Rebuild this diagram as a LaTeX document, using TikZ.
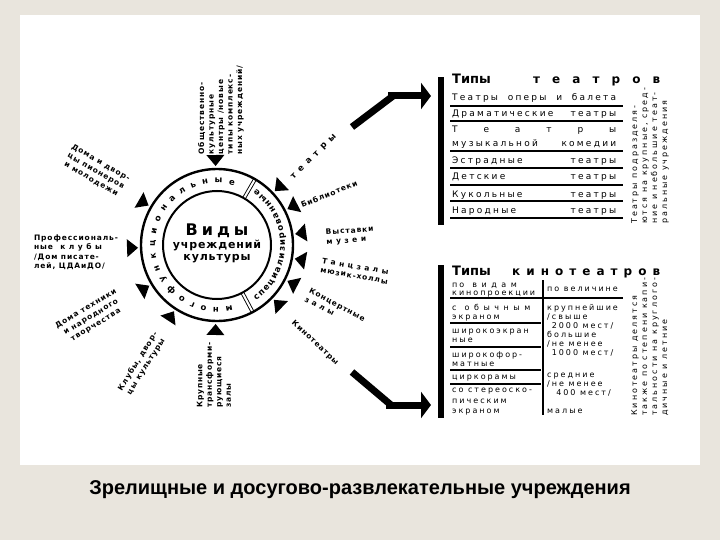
\documentclass[tikz,border=0pt]{standalone}
\usepackage{fontspec}
\setmainfont{DejaVu Sans}
\newfontfamily\wfont[LetterSpace=25]{DejaVu Sans}
\newfontfamily\lfont[LetterSpace=12]{DejaVu Sans}
\newfontfamily\cfont[LetterSpace=8]{DejaVu Sans}
\newfontfamily\capfont{Liberation Sans}
\usetikzlibrary{calc,positioning,arrows.meta,decorations.text}
\definecolor{slidebg}{RGB}{233,229,221}

\begin{document}
\begin{tikzpicture}[x=1pt, y=1pt,
    lbl/.style={font=\lfont\bfseries\fontsize{7.5}{9.5}\selectfont, inner sep=0pt, align=center},
    rowtxt/.style={font=\wfont\fontsize{9}{10}\selectfont, inner sep=0pt, anchor=base west},
    coltxt/.style={font=\wfont\fontsize{8}{9}\selectfont, inner sep=0pt, anchor=base west},
    sidenote/.style={font=\wfont\fontsize{8}{10}\selectfont, inner sep=0pt, align=left, rotate=90, anchor=north west},
    tabhead/.style={font=\bfseries\fontsize{13}{14}\selectfont, inner sep=0pt, anchor=base west},
    tabbar/.style={fill=black, inner sep=0pt, minimum width=6pt},
    tabline/.style={line width=1.3pt},
    bigline/.style={line width=7pt, line cap=butt},
    bigarr/.style={line width=7pt, -{Triangle[length=10pt,width=26pt]}},
    ringtxt/.style={decorate, decoration={text along path, text align=fit to path, text={#1}}},
  ]

  % Slide
  \useasboundingbox (0,0) rectangle (720,-540);
  \fill[slidebg] (0,0) rectangle (720,-540);
  \fill[white] (20,-15) rectangle (700,-465);

  % Circle
  \coordinate (c) at (217,-245);
  \draw[double, double distance=2pt, line width=0.9pt] ($(c)+(60:54)$) -- ($(c)+(60:76)$);
  \draw[double, double distance=2pt, line width=0.9pt] ($(c)+(-62:54)$) -- ($(c)+(-62:76)$);
  \draw[line width=2.4pt] (c) circle[radius=76];
  \draw[line width=2pt] (c) circle[radius=54];
  \path[ringtxt={|\wfont\bfseries\fontsize{8.5}{8.5}\selectfont|многофункциональные}]
    ($(c)+(-76:62)$) arc[start angle=-76, end angle=-286, radius=62];
  \path[ringtxt={|\wfont\bfseries\fontsize{8.5}{8.5}\selectfont|специализированные}]
    ($(c)+(-55:68)$) arc[start angle=-55, end angle=55, radius=68];
  \node[align=center, inner sep=0pt, font=\cfont\bfseries] (vidy) at ($(c)+(0,2)$)
    {{\wfont\fontsize{16}{18}\selectfont Виды}\\[1pt]{\fontsize{11}{15}\selectfont учреждений}\\{\fontsize{11}{15}\selectfont культуры}};

  % Arrowheads
  \foreach \a in {91,150,182,211,237,269,43,27,8,-10,-27,-44}
    \fill ($(c)+(\a:79)$) -- ($(c)+(\a:90)+(\a+90:9)$) -- ($(c)+(\a:90)+(\a-90:9)$) -- cycle;

  % Labels
  \node[lbl, rotate=90, align=left] (obsch) at (221,-110)
    {Общественно-\\культурные\\центры /новые\\типы комплекс-\\ных учреждений/};
  \node[lbl, rotate=-30] (dvorcy) at (96,-171) {Дома и двор-\\цы пионеров\\и молодежи};
  \node[lbl, align=left] (prof) at (76,-252) {Профессиональ-\\ные\quad к л у б ы\\/Дом писате-\\лей, ЦДАиДО/};
  \node[lbl, rotate=31] (tehn) at (91,-317) {Дома техники\\и народного\\творчества};
  \node[lbl, rotate=58] (kluby) at (142,-364) {Клубы, двор-\\цы культуры};
  \node[lbl, rotate=90, align=left] (zaly) at (214,-375) {Крупные\\трансформи-\\рующиеся\\залы};
  \node[lbl, rotate=45, font=\wfont\bfseries\fontsize{8.5}{9}\selectfont] (teatry) at (314,-157) {т е а т р ы};
  \node[lbl, rotate=22] (bibl) at (329,-194) {Библиотеки};
  \node[lbl, rotate=4, align=left] (vyst) at (350,-236) {Выставки\\м у з е и};
  \node[lbl, rotate=-10, align=left] (tanc) at (355,-271) {Т а н ц з а л ы\\мюзик-холлы};
  \node[lbl, rotate=-28, align=left] (konc) at (335,-309) {Концертные\\з а л ы};
  \node[lbl, rotate=-43] (kino) at (315,-343) {Кинотеатры};

  % Bars and big arrows
  \node[tabbar, minimum height=148pt] (bar1) at (441,-151) {};
  \node[tabbar, minimum height=153pt] (bar2) at (441,-341) {};
  \coordinate (t1) at (352,-127);
  \coordinate (h1) at (390,-96);
  \coordinate (e1) at (431,-96);
  \coordinate (k1) at (352,-372);
  \coordinate (h2) at (388,-405);
  \coordinate (e2) at (431,-405);
  \draw[bigline] (t1) -- ($(h1)+(3,0)$);
  \draw[bigarr] ($(h1)+(-2,0)$) -- (e1);
  \draw[bigline] (k1) -- ($(h2)+(3,0)$);
  \draw[bigarr] ($(h2)+(-2,0)$) -- (e2);

  % Table of theatres
  \node[tabhead] (tipy1) at (452,-84) {Типы};
  \node[tabhead, font=\wfont\bfseries\fontsize{12}{14}\selectfont] (teatrov) at (533,-84) {\makebox[127pt][s]{т е а т р о в}};
  \foreach \y/\t in {101/{Театры оперы и балета}, 117/{Драматические театры}, 133/{Т е а т р ы},
                     147/{музыкальной комедии}, 164/{Эстрадные театры}, 180/{Детские театры},
                     197/{Кукольные театры}, 214/{Народные театры}}
    \node[rowtxt] (r\y) at (452,-\y) {\makebox[164pt][s]{\t}};
  \foreach \y in {106,121,151,168,185,201,218}
    \draw[tabline] (450,-\y) -- (623,-\y);
  \node[sidenote] (note1) at (631,-224)
    {Театры подразделя-\\ются на крупные, сред-\\ние и небольшие теат-\\ральные учреждения};

  % Table of cinemas
  \node[tabhead] (tipy2) at (452,-275) {Типы};
  \node[tabhead, font=\wfont\bfseries\fontsize{12}{14}\selectfont] (kinoteatrov) at (512,-275) {\makebox[148pt][s]{к и н о т е а т р о в}};
  \draw[tabline] (543,-280) -- (543,-415);
  \draw[tabline] (450,-298) -- (623,-298);
  \foreach \y in {323,347,370,384}
    \draw[tabline] (450,-\y) -- (541,-\y);
  \foreach \y/\t in {287/{по\quad в и д а м}, 295/{кинопроекции}, 310/{с\quad о б ы ч н ы м}, 319/{экраном},
                     333/{широкоэкран}, 342/{ные}, 357/{широкофор-}, 366/{матные}, 379/{циркорамы},
                     392/{со стереоско-}, 403/{пическим}, 413/{экраном}}
    \node[coltxt] (a\y) at (452,-\y) {\t};
  \foreach \y/\t in {291/{по величине}, 310/{крупнейшие}, 319/{/свыше}, 328/{\ 2000 мест/}, 337/{большие},
                     346/{/не менее}, 355/{\ 1000 мест/}, 377/{средние}, 386/{/не менее}, 395/{\ \ 400 мест/}, 413/{малые}}
    \node[coltxt] (b\y) at (547,-\y) {\t};
  \node[sidenote] (note2) at (631,-416)
    {Кинотеатры делятся\\также по степени капи-\\тальности на круглого-\\дичные и летние};

  % Caption
  \node[font=\capfont\bfseries\fontsize{20}{23}\selectfont] (title) at (360,-490)
    {Зрелищные и досугово-развлекательные учреждения};
\end{tikzpicture}
\end{document}
